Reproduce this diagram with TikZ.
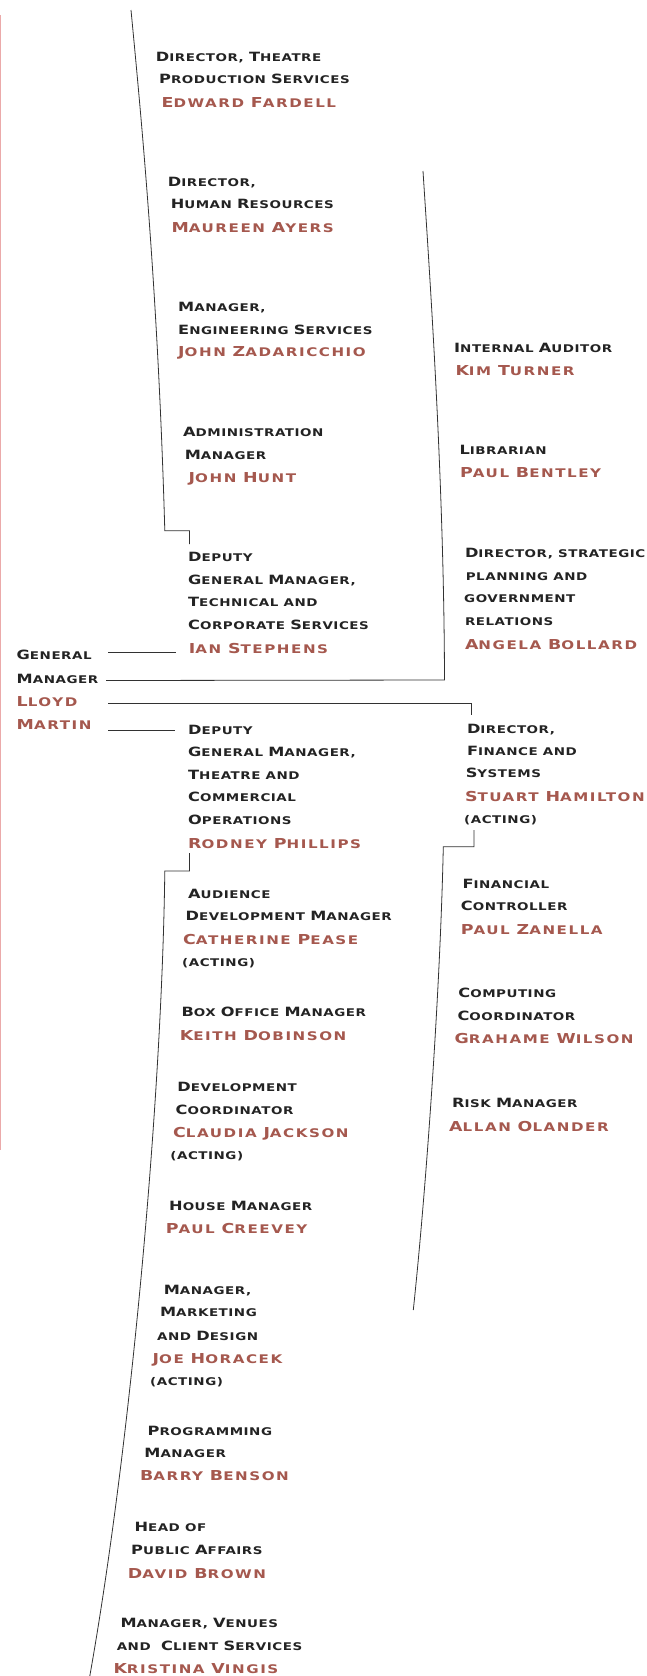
\documentclass[tikz,border=0pt]{standalone}
\usepackage{fontspec}
\newfontfamily\tf{DejaVu Sans}[FakeStretch=1.27,LetterSpace=5]
\newfontfamily\nf{DejaVu Sans}[FakeStretch=1.27,LetterSpace=13]
\definecolor{titlecol}{RGB}{35,35,35}
\definecolor{namecol}{RGB}{165,88,78}
\definecolor{linecol}{RGB}{50,50,50}
\definecolor{edgecol}{RGB}{235,170,170}
\def\bsz{12.75}
\newcommand\B[1]{{\fontsize{\bsz}{12}\selectfont #1}}
\begin{document}
\begin{tikzpicture}[x=1pt,y=-1pt,
  tt/.style={anchor=base west, inner sep=0pt, text=titlecol, font=\def\bsz{12.75}\tf\bfseries\fontsize{10.6}{12}\selectfont},
  nm/.style={anchor=base west, inner sep=0pt, text=namecol, font=\def\bsz{13.7}\nf\bfseries\fontsize{11.9}{12}\selectfont},
  ln/.style={draw=linecol, line width=0.8pt}]
\useasboundingbox[fill=white] (0,0) rectangle (646,1676);
\draw[edgecol, line width=1pt] (0.6,15) -- (0.6,1150);

% ---- upper left column
\node[tt] (a1) at (155.7,61) {\B{D}IRECTOR, \B{T}HEATRE};
\node[tt] (a2) at (159,83) {\B{P}RODUCTION \B{S}ERVICES};
\node[nm] (a3) at (161.5,107) {\B{E}DWARD \B{F}ARDELL};

\node[tt] (b1) at (167.7,186) {\B{D}IRECTOR,};
\node[tt] (b2) at (170.6,208) {\B{H}UMAN \B{R}ESOURCES};
\node[nm] (b3) at (171.4,232) {\B{M}AUREEN \B{A}YERS};

\node[tt] (c1) at (178,311.7) {\B{M}ANAGER,};
\node[tt] (c2) at (178,334) {\B{E}NGINEERING \B{S}ERVICES};
\node[nm] (c3) at (178,356.7) {\B{J}OHN \B{Z}ADARICCHIO};

\node[tt] (d1) at (183,436.7) {\B{A}DMINISTRATION};
\node[tt] (d2) at (184.6,459.3) {\B{M}ANAGER};
\node[nm] (d3) at (188.5,482.3) {\B{J}OHN \B{H}UNT};

\node[tt] (e1) at (188,561.7) {\B{D}EPUTY};
\node[tt] (e2) at (188,584.3) {\B{G}ENERAL \B{M}ANAGER,};
\node[tt] (e3) at (188,606.7) {\B{T}ECHNICAL AND};
\node[tt] (e4) at (188,629.3) {\B{C}ORPORATE \B{S}ERVICES};
\node[nm] (e5) at (188.7,653.3) {\B{I}AN \B{S}TEPHENS};

% ---- general manager
\node[tt] (g1) at (16.5,659.3) {\B{G}ENERAL};
\node[tt] (g2) at (16.5,683.3) {\B{M}ANAGER};
\node[nm] (g3) at (16.5,706.7) {\B{L}LOYD};
\node[nm] (g4) at (16.5,729) {\B{M}ARTIN};

% ---- lower left column
\node[tt] (f1) at (188,734) {\B{D}EPUTY};
\node[tt] (f2) at (188,756.7) {\B{G}ENERAL \B{M}ANAGER,};
\node[tt] (f3) at (188,779.3) {\B{T}HEATRE AND};
\node[tt] (f4) at (188,801.7) {\B{C}OMMERCIAL};
\node[tt] (f5) at (188,824.3) {\B{O}PERATIONS};
\node[nm] (f6) at (188,848.3) {\B{R}ODNEY \B{P}HILLIPS};

\node[tt] (h1) at (188,898.3) {\B{A}UDIENCE};
\node[tt] (h2) at (185.4,920.7) {\B{D}EVELOPMENT \B{M}ANAGER};
\node[nm] (h3) at (183,944) {\B{C}ATHERINE \B{P}EASE};
\node[tt] (h4) at (182,966.7) {(ACTING)};

\node[tt] (i1) at (181.3,1016) {\B{B}OX \B{O}FFICE \B{M}ANAGER};
\node[nm] (i2) at (179.6,1040) {\B{K}EITH \B{D}OBINSON};

\node[tt] (j1) at (177.2,1091.7) {\B{D}EVELOPMENT};
\node[tt] (j2) at (175.5,1114) {\B{C}OORDINATOR};
\node[nm] (j3) at (173,1137.3) {\B{C}LAUDIA \B{J}ACKSON};
\node[tt] (j4) at (170.2,1159.3) {(ACTING)};

\node[tt] (k1) at (169,1210) {\B{H}OUSE \B{M}ANAGER};
\node[nm] (k2) at (165.6,1233.3) {\B{P}AUL \B{C}REEVEY};

\node[tt] (l1) at (163.6,1294) {\B{M}ANAGER,};
\node[tt] (l2) at (159.9,1316.7) {\B{M}ARKETING};
\node[tt] (l3) at (157,1340) {AND \B{D}ESIGN};
\node[nm] (l4) at (152.5,1363.3) {\B{J}OE \B{H}ORACEK};
\node[tt] (l5) at (150,1385) {(ACTING)};

\node[tt] (m1) at (147.5,1435) {\B{P}ROGRAMMING};
\node[tt] (m2) at (144.2,1457.3) {\B{M}ANAGER};
\node[nm] (m3) at (140,1480.7) {\B{B}ARRY \B{B}ENSON};

\node[tt] (o1) at (134.3,1531.7) {\B{H}EAD OF};
\node[tt] (o2) at (131,1554.3) {\B{P}UBLIC \B{A}FFAIRS};
\node[nm] (o3) at (127.7,1578.3) {\B{D}AVID \B{B}ROWN};

\node[tt] (p1) at (120.3,1627.7) {\B{M}ANAGER, \B{V}ENUES};
\node[tt] (p2) at (116.6,1650) {AND\ \ \B{C}LIENT \B{S}ERVICES};
\node[nm] (p3) at (113.3,1673.3) {\B{K}RISTINA \B{V}INGIS};

% ---- right column
\node[tt] (r1) at (454,352.7) {\B{I}NTERNAL \B{A}UDITOR};
\node[nm] (r2) at (455.3,375.7) {\B{K}IM \B{T}URNER};

\node[tt] (s1) at (459.4,454.3) {\B{L}IBRARIAN};
\node[nm] (s2) at (460,477.3) {\B{P}AUL \B{B}ENTLEY};

\node[tt] (t1) at (464.8,557.7) {\B{D}IRECTOR, STRATEGIC};
\node[tt] (t2) at (465.6,580) {PLANNING AND};
\node[tt] (t3) at (464,602.7) {GOVERNMENT};
\node[tt] (t4) at (464.8,625) {RELATIONS};
\node[nm] (t5) at (464.8,649) {\B{A}NGELA \B{B}OLLARD};

\node[tt] (u1) at (466.8,733.3) {\B{D}IRECTOR,};
\node[tt] (u2) at (466.8,755) {\B{F}INANCE AND};
\node[tt] (u3) at (465.6,777.3) {\B{S}YSTEMS};
\node[nm] (u4) at (464.8,801.7) {\B{S}TUART \B{H}AMILTON};
\node[tt] (u5) at (464,823.3) {(ACTING)};

\node[tt] (v1) at (462.3,888.3) {\B{F}INANCIAL};
\node[tt] (v2) at (460.7,910.7) {\B{C}ONTROLLER};
\node[nm] (v3) at (460.7,934) {\B{P}AUL \B{Z}ANELLA};

\node[tt] (w1) at (458.2,997.7) {\B{C}OMPUTING};
\node[tt] (w2) at (457.4,1020) {\B{C}OORDINATOR};
\node[nm] (w3) at (454.5,1043.3) {\B{G}RAHAME \B{W}ILSON};

\node[tt] (x1) at (452,1107.3) {\B{R}ISK \B{M}ANAGER};
\node[nm] (x2) at (449,1131) {\B{A}LLAN \B{O}LANDER};

% ---- connectors
\coordinate (tl0) at (131,10);
\coordinate (tl1) at (164.8,530.7);
\coordinate (tl2) at (189.5,530.7);
\coordinate (tl3) at (189.5,544);
\draw[ln] (tl0) .. controls (141,115) and (158,290) .. (tl1) -- (tl2) -- (tl3);

\coordinate (ga) at (108,652);
\coordinate (gb) at (175.5,652);
\draw[ln] (ga) -- (gb);

\coordinate (ma) at (106,680.5);
\coordinate (mb) at (444.5,680);
\coordinate (mc) at (423,171);
\draw[ln] (ma) -- (mb) .. controls (444,480) and (430,280) .. (mc);

\coordinate (la) at (108,703);
\coordinate (lb) at (471,703);
\coordinate (lc) at (471,715);
\draw[ln] (la) -- (lb) -- (lc);

\coordinate (na) at (108,730);
\coordinate (nb) at (175,730);
\draw[ln] (na) -- (nb);

\coordinate (fa) at (474,830);
\coordinate (fb) at (474,846.7);
\coordinate (fc) at (443.3,846.7);
\coordinate (fd) at (413.3,1310);
\draw[ln] (fa) -- (fb) -- (fc) .. controls (440,1000) and (425,1200) .. (fd);

\coordinate (ra) at (189.5,853);
\coordinate (rb) at (189.5,871);
\coordinate (rc) at (164.8,871);
\coordinate (rd) at (89.8,1676);
\draw[ln] (ra) -- (rb) -- (rc) .. controls (162,1100) and (130,1450) .. (rd);
\end{tikzpicture}
\end{document}
